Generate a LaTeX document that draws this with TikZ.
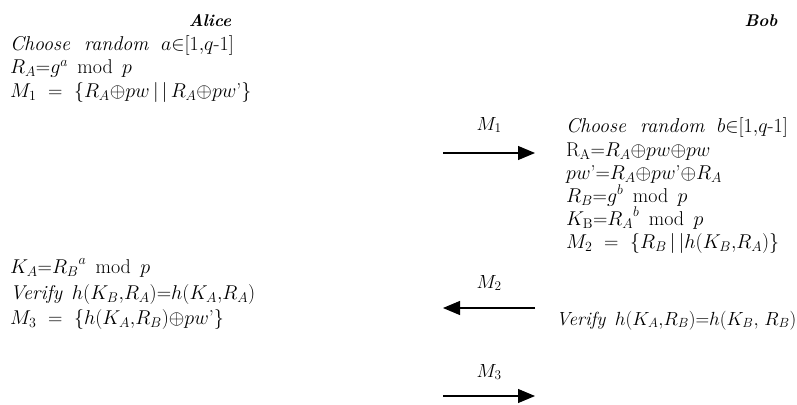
\RequirePackage{fix-cm}
\documentclass[tikz,border=0pt]{standalone}
\usetikzlibrary{arrows.meta}
\newcommand{\md}{\ \,\mathrm{mod}\ \,}
\newcommand{\gp}{\ \ }
\newcommand{\pwp}{pw\mbox{'}}
\begin{document}
\begin{tikzpicture}[x=1pt,y=-1pt,
  txt/.style={anchor=base west, inner sep=0pt, font=\fontsize{20}{22}\selectfont},
  txs/.style={anchor=base west, inner sep=0pt, font=\fontsize{19}{22}\selectfont},
  ttl/.style={anchor=base, inner sep=0pt, font=\fontsize{17}{20}\selectfont\bfseries\itshape},
  lbl/.style={anchor=base, inner sep=0pt, font=\fontsize{19}{22}\selectfont},
  msg/.style={line width=1.1pt, -{Triangle[length=17pt,width=14pt]}}]
\useasboundingbox (0,0) rectangle (797,404);
% titles
\node[ttl] (alice) at (210,27) {Alice};
\node[ttl] (bob) at (761,27) {Bob};
% Alice block 1
\node[txt] (a1) at (10,51) {\textit{Choose\gp random}\gp$a{\in}[1{,}q$-$1]$};
\node[txt] (a2) at (10,74) {$R_A{=}g^{a}\md p$};
\node[txt] (a3) at (10,97) {$M_1\ =\ \{R_A{\oplus}pw\,|\,|\,R_A{\oplus}\pwp\}$};
% Bob block 1
\node[txt] (b1) at (566,132) {\textit{Choose\gp random}\gp$b{\in}[1{,}q$-$1]$};
\node[txt] (b2) at (566,156) {$\mathrm{R_A}{=}R_A{\oplus}pw{\oplus}pw$};
\node[txt] (b3) at (566,179) {$\pwp{=}R_A{\oplus}\pwp{\oplus}R_A$};
\node[txt] (b4) at (566,202) {$R_B{=}g^{b}\md p$};
\node[txt] (b5) at (566,225) {$K_\mathrm{B}{=}{R_A}^{b}\md p$};
\node[txt] (b6) at (566,248) {$M_2\ =\ \{R_B\,|\,|h(K_B{,}R_A)\}$};
% Alice block 2
\node[txt] (a4) at (10,273) {$K_A{=}{R_B}^{a}\md p$};
\node[txt] (a5) at (10,299) {\textit{Verify}\ \,$h(K_B{,}R_A){=}h(K_A{,}R_A)$};
\node[txt] (a6) at (10,324) {$M_3\ =\ \{h(K_A{,}R_B){\oplus}\pwp\}$};
% Bob block 2
\node[txs] (b7) at (556,325) {\textit{Verify}\ \,$h(K_A{,}R_B){=}h(K_B{,}\ R_B)$};
% messages
\node[lbl] (l1) at (489,130) {$M_1$};
\node[lbl] (l2) at (489,288) {$M_2$};
\node[lbl] (l3) at (489,377) {$M_3$};
\coordinate (m1s) at (443,153); \coordinate (m1e) at (535,153);
\coordinate (m2s) at (535,308); \coordinate (m2e) at (443,308);
\coordinate (m3s) at (443,396); \coordinate (m3e) at (535,396);
\draw[msg] (m1s) -- (m1e);
\draw[msg] (m2s) -- (m2e);
\draw[msg] (m3s) -- (m3e);
\end{tikzpicture}
\end{document}
